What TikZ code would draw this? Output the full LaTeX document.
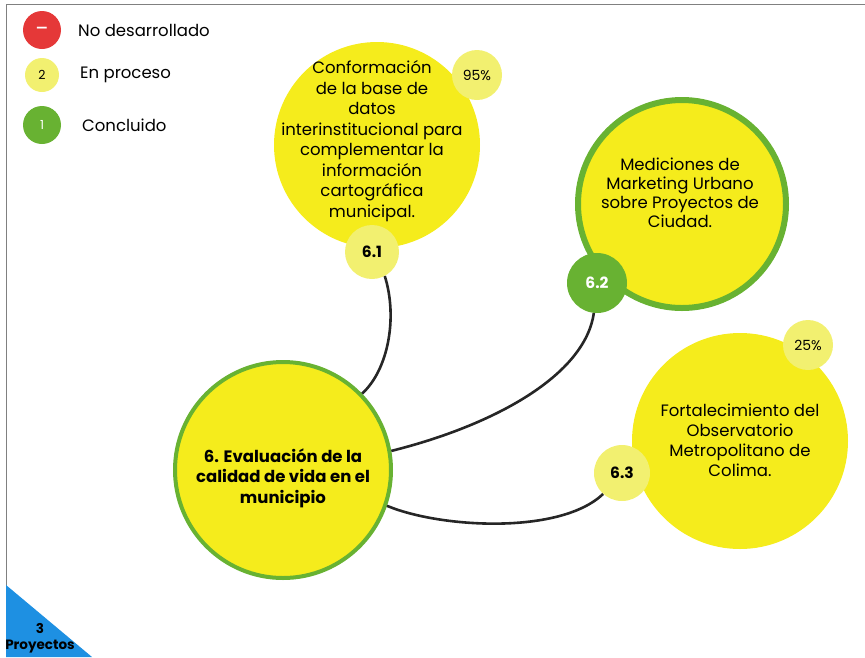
\documentclass[tikz,border=0pt]{standalone}
\usepackage{fontspec}
\setmainfont{Poppins}
\usepackage{tikz}
\definecolor{amarillo}{RGB}{245,236,28}
\definecolor{amarilloc}{RGB}{242,240,112}
\definecolor{verde}{RGB}{104,178,50}
\definecolor{rojo}{RGB}{229,56,56}
\definecolor{azul}{RGB}{30,144,226}

\begin{document}
\begin{tikzpicture}[x=1pt,y=-1pt,
    bigc/.style={circle,fill=amarillo,minimum size=#1,inner sep=0pt},
    txt/.style={align=center,inner sep=0pt,font=\fontsize{16.5}{20.5}\selectfont},
    badge/.style={circle,fill=amarilloc,minimum size=#1,inner sep=0pt,
      font=\bfseries\fontsize{15.5}{17}\selectfont},
    pct/.style={circle,fill=amarilloc,minimum size=50,inner sep=0pt,
      font=\fontsize{14}{16}\selectfont},
    legc/.style={circle,minimum size=#1,inner sep=0pt,font=\fontsize{12.5}{14}\selectfont},
    legt/.style={anchor=west,inner sep=0pt,font=\fontsize{16.5}{18}\selectfont},
    con/.style={line width=2.6pt,black!85}]
    \useasboundingbox (0,0) rectangle (865,657);
    % Frame
    \draw[gray,line width=1pt] (865,4) -- (6,4) -- (6,657);

    % Legend
    \node[legc=38,fill=rojo,text=white]  (l1) at (42,30) {\bfseries ---};
    \node[legc=34,fill=amarilloc]        (l2) at (42,75) {2};
    \node[legc=38,fill=verde,text=white] (l3) at (42,125) {1};
    \node[legt] (t1) at (78,30)  {No desarrollado};
    \node[legt] (t2) at (80,75)  {En proceso};
    \node[legt] (t3) at (82,125) {Concluido};

    % Big circles
    \node[bigc=216,draw=verde,line width=4pt] (main) at (283,470) {};
    \node[bigc=206] (p1) at (377,145) {};
    \node[bigc=208,draw=verde,line width=6pt] (p2) at (682,204) {};
    \node[bigc=216] (p3) at (740,441) {};

    % Texts
    \node[txt,font=\bfseries\fontsize{16.5}{20.5}\selectfont] (m) at (283,478)
      {6. Evaluación de la\\calidad de vida en el\\municipio};
    \node[txt] (x1) at (372,141) {Conformación\\de la base de\\datos\\interinstitucional para\\complementar la\\información\\cartográfica\\municipal.};
    \node[txt,font=\fontsize{16.5}{19}\selectfont] (x2) at (680,193)
      {Mediciones de\\Marketing Urbano\\sobre Proyectos de\\Ciudad.};
    \node[txt,font=\fontsize{16.5}{20}\selectfont] (x3) at (740,440)
      {Fortalecimiento del\\Observatorio\\Metropolitano de\\Colima.};

    % Badges
    \node[badge=54] (b1) at (372,252) {6.1};
    \node[badge=60,fill=verde,text=white] (b2) at (597,283) {6.2};
    \node[badge=56] (b3) at (622,473) {6.3};
    \node[pct] (q1) at (477,75)  {95\%};
    \node[pct] (q3) at (808,345) {25\%};

    % Connectors
    \draw[con] (b1.-62) .. controls (398,318) and (388,370) .. (main.44);
    \draw[con] (b2.-96) .. controls (585,375) and (495,425) .. (main.10);
    \draw[con] (b3.-132) .. controls (560,535) and (440,528) .. (main.-19);

    % Corner
    \fill[azul] (6,585) -- (6,657) -- (92,657) -- cycle;
    \node[font=\bfseries\fontsize{13.5}{15}\selectfont] (n) at (40,628) {3};
    \node[font=\bfseries\fontsize{13.5}{15}\selectfont] (pr) at (40,647) {Proyectos};
\end{tikzpicture}
\end{document}
